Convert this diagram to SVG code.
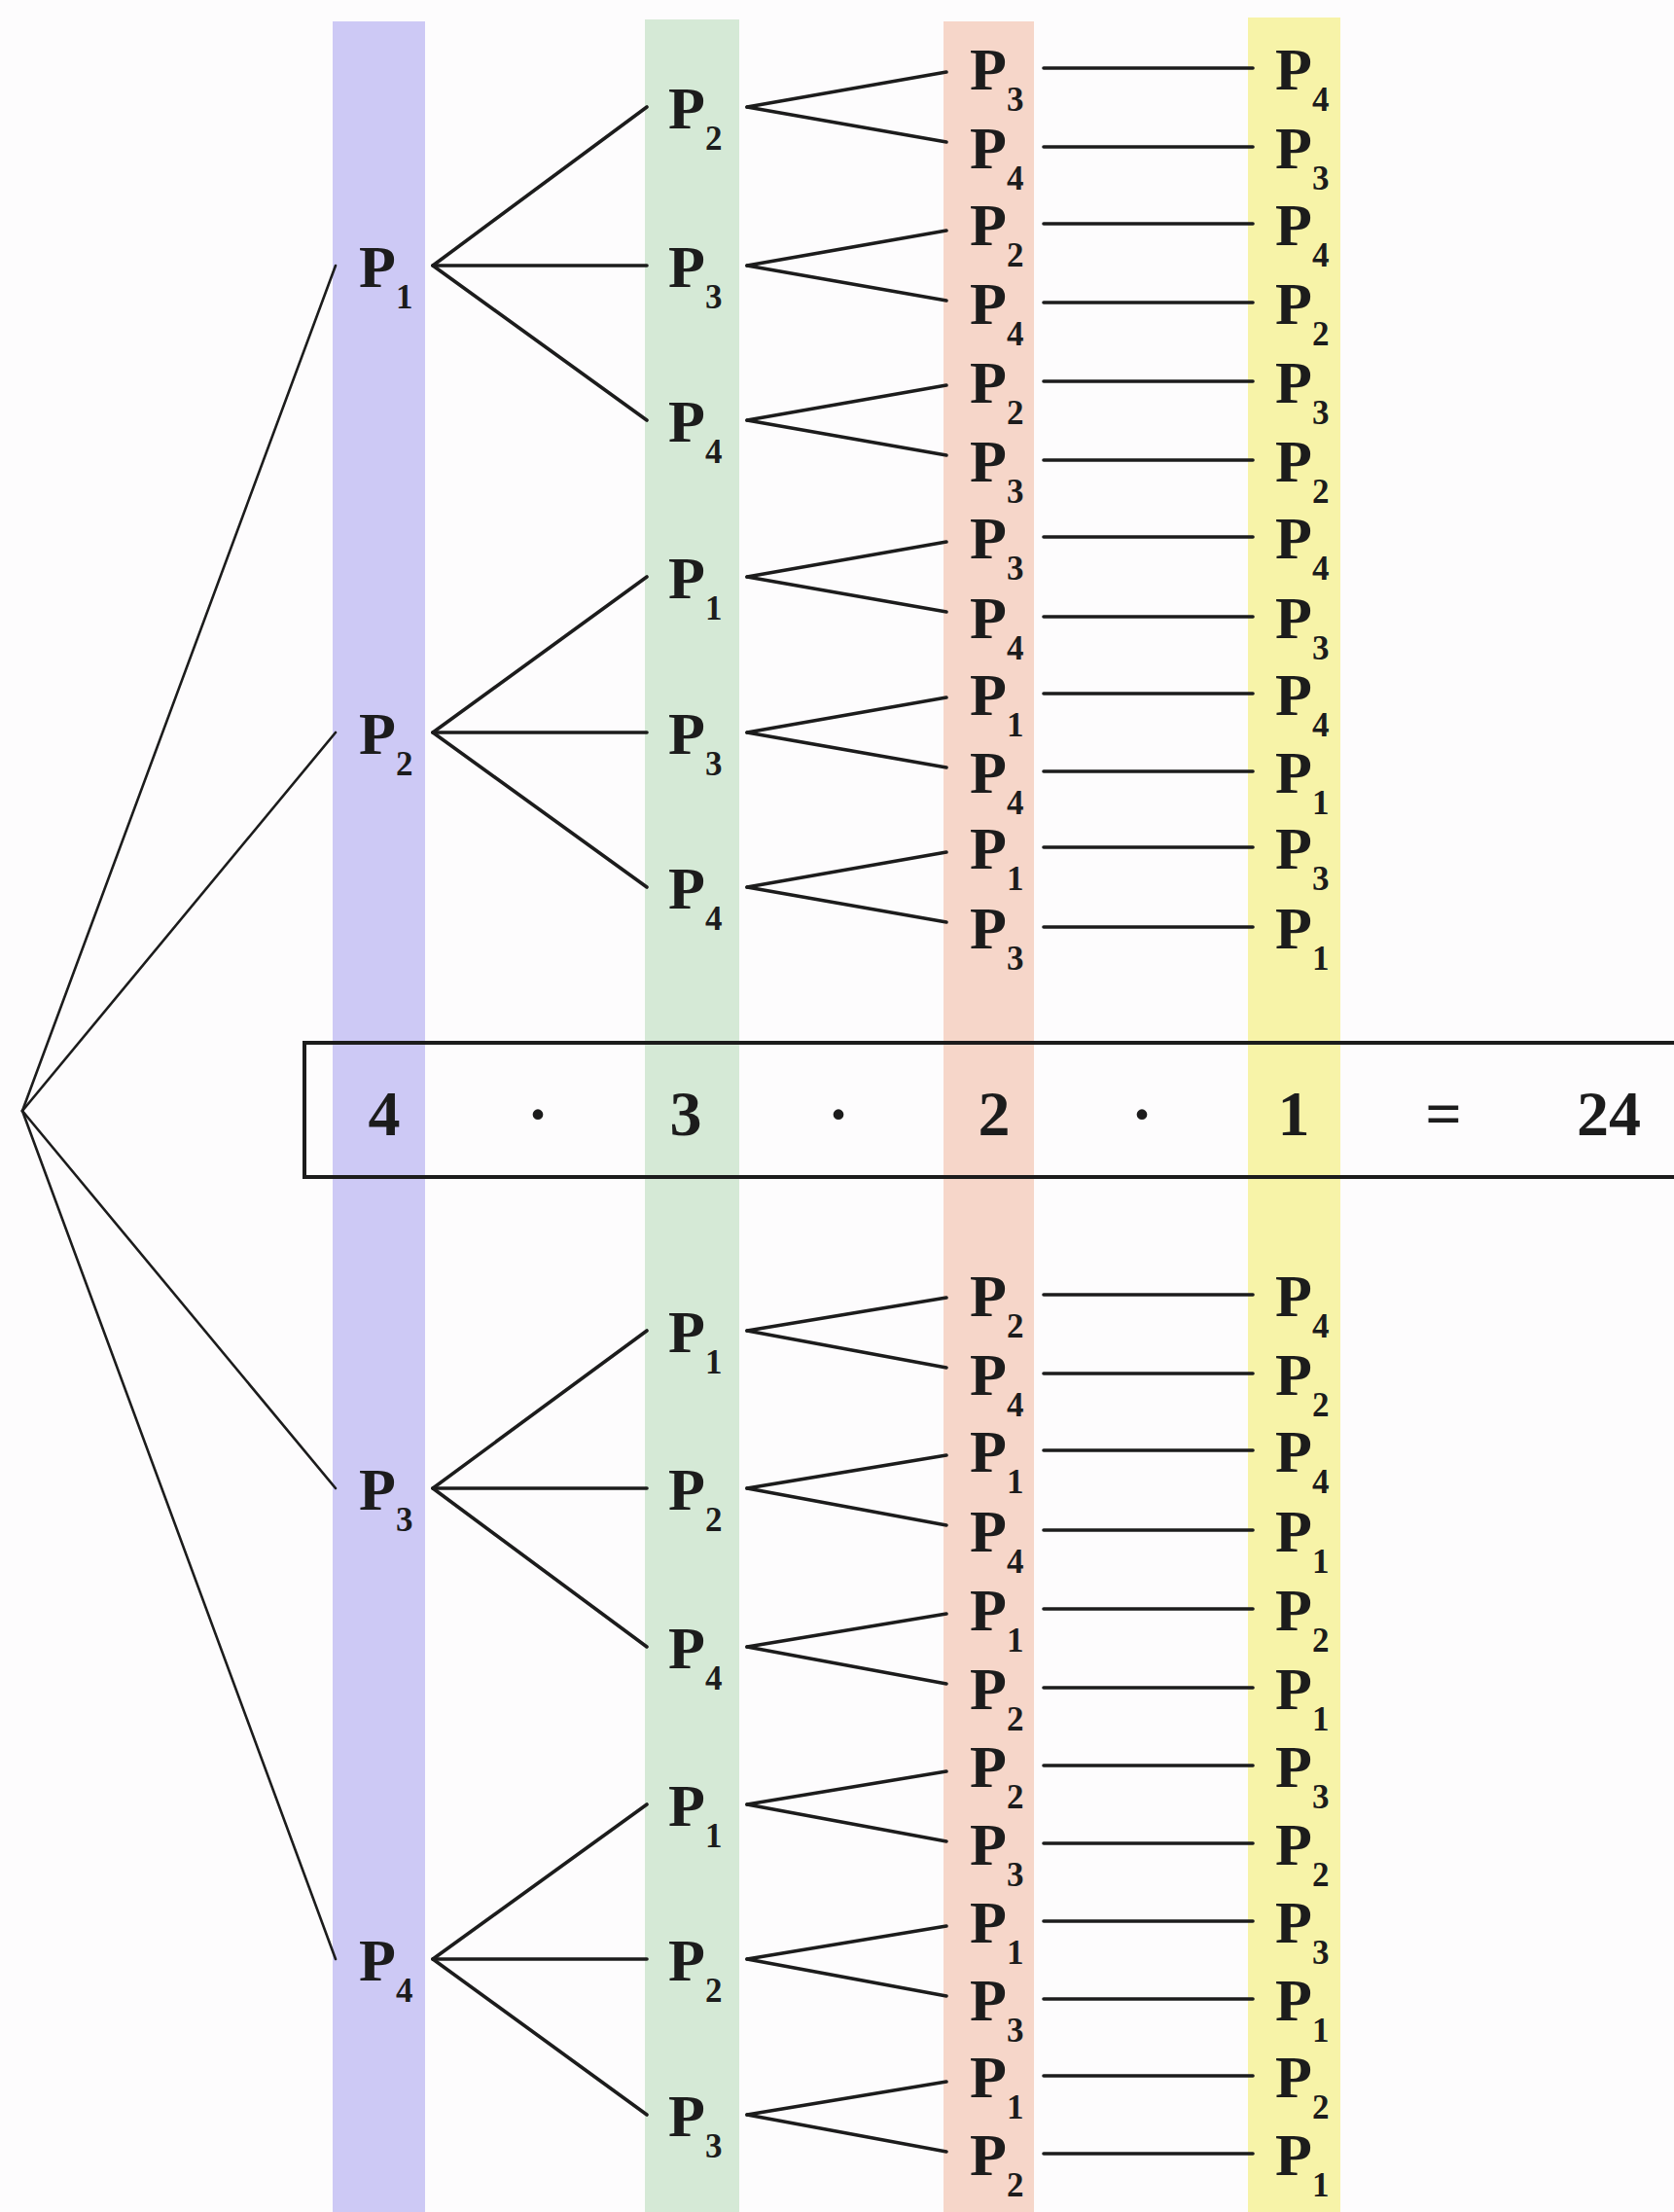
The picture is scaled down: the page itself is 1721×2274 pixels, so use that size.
<svg xmlns="http://www.w3.org/2000/svg" width="1721" height="2274" viewBox="0 0 1721 2274">
<style>
text{font-family:"Liberation Serif","Times New Roman",serif;font-weight:bold;fill:#1c1c1c}
.t{font-size:62px}
.s{font-size:35px}
.b{font-size:66px;text-anchor:middle}
.c line{stroke:#1c1c1c;stroke-width:3.6;stroke-linecap:round}
.c .r{stroke-width:2.6}
</style>
<rect width="1721" height="2274" fill="#fdfcfd"/>
<g id="columns">
<rect x="342" y="22" width="95" height="2252" fill="#cdc9f5"/>
<rect x="663" y="20" width="97" height="2254" fill="#d5e9d6"/>
<rect x="970" y="22" width="93" height="2252" fill="#f6d6c9"/>
<rect x="1283" y="18" width="95" height="2256" fill="#f7f3a8"/>
</g>
<g id="connectors" class="c">
<line class="r" x1="23" y1="1142" x2="345" y2="273"/>
<line class="r" x1="23" y1="1142" x2="345" y2="753"/>
<line class="r" x1="23" y1="1142" x2="345" y2="1530"/>
<line class="r" x1="23" y1="1142" x2="345" y2="2014"/>
<line x1="445" y1="273" x2="665" y2="110"/>
<line x1="445" y1="273" x2="665" y2="273"/>
<line x1="445" y1="273" x2="665" y2="432"/>
<line x1="445" y1="753" x2="665" y2="593"/>
<line x1="445" y1="753" x2="665" y2="753"/>
<line x1="445" y1="753" x2="665" y2="912"/>
<line x1="445" y1="1530" x2="665" y2="1368"/>
<line x1="445" y1="1530" x2="665" y2="1530"/>
<line x1="445" y1="1530" x2="665" y2="1693"/>
<line x1="445" y1="2014" x2="665" y2="1855"/>
<line x1="445" y1="2014" x2="665" y2="2014"/>
<line x1="445" y1="2014" x2="665" y2="2174"/>
<line x1="768" y1="110" x2="973" y2="74"/>
<line x1="768" y1="110" x2="973" y2="146"/>
<line x1="768" y1="273" x2="973" y2="237"/>
<line x1="768" y1="273" x2="973" y2="309"/>
<line x1="768" y1="432" x2="973" y2="396"/>
<line x1="768" y1="432" x2="973" y2="468"/>
<line x1="768" y1="593" x2="973" y2="557"/>
<line x1="768" y1="593" x2="973" y2="629"/>
<line x1="768" y1="753" x2="973" y2="717"/>
<line x1="768" y1="753" x2="973" y2="789"/>
<line x1="768" y1="912" x2="973" y2="876"/>
<line x1="768" y1="912" x2="973" y2="948"/>
<line x1="768" y1="1368" x2="973" y2="1334"/>
<line x1="768" y1="1368" x2="973" y2="1406"/>
<line x1="768" y1="1530" x2="973" y2="1496"/>
<line x1="768" y1="1530" x2="973" y2="1568"/>
<line x1="768" y1="1693" x2="973" y2="1659"/>
<line x1="768" y1="1693" x2="973" y2="1731"/>
<line x1="768" y1="1855" x2="973" y2="1821"/>
<line x1="768" y1="1855" x2="973" y2="1893"/>
<line x1="768" y1="2014" x2="973" y2="1980"/>
<line x1="768" y1="2014" x2="973" y2="2052"/>
<line x1="768" y1="2174" x2="973" y2="2140"/>
<line x1="768" y1="2174" x2="973" y2="2212"/>
<line x1="1073" y1="70" x2="1288" y2="70"/>
<line x1="1073" y1="151" x2="1288" y2="151"/>
<line x1="1073" y1="230" x2="1288" y2="230"/>
<line x1="1073" y1="311" x2="1288" y2="311"/>
<line x1="1073" y1="392" x2="1288" y2="392"/>
<line x1="1073" y1="473" x2="1288" y2="473"/>
<line x1="1073" y1="552" x2="1288" y2="552"/>
<line x1="1073" y1="634" x2="1288" y2="634"/>
<line x1="1073" y1="713" x2="1288" y2="713"/>
<line x1="1073" y1="793" x2="1288" y2="793"/>
<line x1="1073" y1="871" x2="1288" y2="871"/>
<line x1="1073" y1="953" x2="1288" y2="953"/>
<line x1="1073" y1="1331" x2="1288" y2="1331"/>
<line x1="1073" y1="1412" x2="1288" y2="1412"/>
<line x1="1073" y1="1491" x2="1288" y2="1491"/>
<line x1="1073" y1="1573" x2="1288" y2="1573"/>
<line x1="1073" y1="1654" x2="1288" y2="1654"/>
<line x1="1073" y1="1735" x2="1288" y2="1735"/>
<line x1="1073" y1="1815" x2="1288" y2="1815"/>
<line x1="1073" y1="1895" x2="1288" y2="1895"/>
<line x1="1073" y1="1975" x2="1288" y2="1975"/>
<line x1="1073" y1="2055" x2="1288" y2="2055"/>
<line x1="1073" y1="2134" x2="1288" y2="2134"/>
<line x1="1073" y1="2214" x2="1288" y2="2214"/>
</g>
<g id="l1-1"><text class="t" x="369" y="295">P<tspan class="s" dy="22">1</tspan></text></g>
<g id="l1-2"><text class="t" x="369" y="775">P<tspan class="s" dy="22">2</tspan></text></g>
<g id="l1-3"><text class="t" x="369" y="1552">P<tspan class="s" dy="22">3</tspan></text></g>
<g id="l1-4"><text class="t" x="369" y="2036">P<tspan class="s" dy="22">4</tspan></text></g>
<g id="l2-1"><text class="t" x="687" y="132">P<tspan class="s" dy="22">2</tspan></text></g>
<g id="l2-2"><text class="t" x="687" y="295">P<tspan class="s" dy="22">3</tspan></text></g>
<g id="l2-3"><text class="t" x="687" y="454">P<tspan class="s" dy="22">4</tspan></text></g>
<g id="l2-4"><text class="t" x="687" y="615">P<tspan class="s" dy="22">1</tspan></text></g>
<g id="l2-5"><text class="t" x="687" y="775">P<tspan class="s" dy="22">3</tspan></text></g>
<g id="l2-6"><text class="t" x="687" y="934">P<tspan class="s" dy="22">4</tspan></text></g>
<g id="l2-7"><text class="t" x="687" y="1390">P<tspan class="s" dy="22">1</tspan></text></g>
<g id="l2-8"><text class="t" x="687" y="1552">P<tspan class="s" dy="22">2</tspan></text></g>
<g id="l2-9"><text class="t" x="687" y="1715">P<tspan class="s" dy="22">4</tspan></text></g>
<g id="l2-10"><text class="t" x="687" y="1877">P<tspan class="s" dy="22">1</tspan></text></g>
<g id="l2-11"><text class="t" x="687" y="2036">P<tspan class="s" dy="22">2</tspan></text></g>
<g id="l2-12"><text class="t" x="687" y="2196">P<tspan class="s" dy="22">3</tspan></text></g>
<g id="l3-1"><text class="t" x="997" y="92">P<tspan class="s" dy="22">3</tspan></text></g>
<g id="l3-2"><text class="t" x="997" y="173">P<tspan class="s" dy="22">4</tspan></text></g>
<g id="l3-3"><text class="t" x="997" y="252">P<tspan class="s" dy="22">2</tspan></text></g>
<g id="l3-4"><text class="t" x="997" y="333">P<tspan class="s" dy="22">4</tspan></text></g>
<g id="l3-5"><text class="t" x="997" y="414">P<tspan class="s" dy="22">2</tspan></text></g>
<g id="l3-6"><text class="t" x="997" y="495">P<tspan class="s" dy="22">3</tspan></text></g>
<g id="l3-7"><text class="t" x="997" y="574">P<tspan class="s" dy="22">3</tspan></text></g>
<g id="l3-8"><text class="t" x="997" y="656">P<tspan class="s" dy="22">4</tspan></text></g>
<g id="l3-9"><text class="t" x="997" y="735">P<tspan class="s" dy="22">1</tspan></text></g>
<g id="l3-10"><text class="t" x="997" y="815">P<tspan class="s" dy="22">4</tspan></text></g>
<g id="l3-11"><text class="t" x="997" y="893">P<tspan class="s" dy="22">1</tspan></text></g>
<g id="l3-12"><text class="t" x="997" y="975">P<tspan class="s" dy="22">3</tspan></text></g>
<g id="l3-13"><text class="t" x="997" y="1353">P<tspan class="s" dy="22">2</tspan></text></g>
<g id="l3-14"><text class="t" x="997" y="1434">P<tspan class="s" dy="22">4</tspan></text></g>
<g id="l3-15"><text class="t" x="997" y="1513">P<tspan class="s" dy="22">1</tspan></text></g>
<g id="l3-16"><text class="t" x="997" y="1595">P<tspan class="s" dy="22">4</tspan></text></g>
<g id="l3-17"><text class="t" x="997" y="1676">P<tspan class="s" dy="22">1</tspan></text></g>
<g id="l3-18"><text class="t" x="997" y="1757">P<tspan class="s" dy="22">2</tspan></text></g>
<g id="l3-19"><text class="t" x="997" y="1837">P<tspan class="s" dy="22">2</tspan></text></g>
<g id="l3-20"><text class="t" x="997" y="1917">P<tspan class="s" dy="22">3</tspan></text></g>
<g id="l3-21"><text class="t" x="997" y="1997">P<tspan class="s" dy="22">1</tspan></text></g>
<g id="l3-22"><text class="t" x="997" y="2077">P<tspan class="s" dy="22">3</tspan></text></g>
<g id="l3-23"><text class="t" x="997" y="2156">P<tspan class="s" dy="22">1</tspan></text></g>
<g id="l3-24"><text class="t" x="997" y="2236">P<tspan class="s" dy="22">2</tspan></text></g>
<g id="l4-1"><text class="t" x="1311" y="92">P<tspan class="s" dy="22">4</tspan></text></g>
<g id="l4-2"><text class="t" x="1311" y="173">P<tspan class="s" dy="22">3</tspan></text></g>
<g id="l4-3"><text class="t" x="1311" y="252">P<tspan class="s" dy="22">4</tspan></text></g>
<g id="l4-4"><text class="t" x="1311" y="333">P<tspan class="s" dy="22">2</tspan></text></g>
<g id="l4-5"><text class="t" x="1311" y="414">P<tspan class="s" dy="22">3</tspan></text></g>
<g id="l4-6"><text class="t" x="1311" y="495">P<tspan class="s" dy="22">2</tspan></text></g>
<g id="l4-7"><text class="t" x="1311" y="574">P<tspan class="s" dy="22">4</tspan></text></g>
<g id="l4-8"><text class="t" x="1311" y="656">P<tspan class="s" dy="22">3</tspan></text></g>
<g id="l4-9"><text class="t" x="1311" y="735">P<tspan class="s" dy="22">4</tspan></text></g>
<g id="l4-10"><text class="t" x="1311" y="815">P<tspan class="s" dy="22">1</tspan></text></g>
<g id="l4-11"><text class="t" x="1311" y="893">P<tspan class="s" dy="22">3</tspan></text></g>
<g id="l4-12"><text class="t" x="1311" y="975">P<tspan class="s" dy="22">1</tspan></text></g>
<g id="l4-13"><text class="t" x="1311" y="1353">P<tspan class="s" dy="22">4</tspan></text></g>
<g id="l4-14"><text class="t" x="1311" y="1434">P<tspan class="s" dy="22">2</tspan></text></g>
<g id="l4-15"><text class="t" x="1311" y="1513">P<tspan class="s" dy="22">4</tspan></text></g>
<g id="l4-16"><text class="t" x="1311" y="1595">P<tspan class="s" dy="22">1</tspan></text></g>
<g id="l4-17"><text class="t" x="1311" y="1676">P<tspan class="s" dy="22">2</tspan></text></g>
<g id="l4-18"><text class="t" x="1311" y="1757">P<tspan class="s" dy="22">1</tspan></text></g>
<g id="l4-19"><text class="t" x="1311" y="1837">P<tspan class="s" dy="22">3</tspan></text></g>
<g id="l4-20"><text class="t" x="1311" y="1917">P<tspan class="s" dy="22">2</tspan></text></g>
<g id="l4-21"><text class="t" x="1311" y="1997">P<tspan class="s" dy="22">3</tspan></text></g>
<g id="l4-22"><text class="t" x="1311" y="2077">P<tspan class="s" dy="22">1</tspan></text></g>
<g id="l4-23"><text class="t" x="1311" y="2156">P<tspan class="s" dy="22">2</tspan></text></g>
<g id="l4-24"><text class="t" x="1311" y="2236">P<tspan class="s" dy="22">1</tspan></text></g>
<g id="equation">
<rect x="313" y="1072" width="1420" height="138" fill="none" stroke="#1c1c1c" stroke-width="4"/>
<text class="b" x="395" y="1167">4</text>
<text class="b" x="553" y="1167">·</text>
<text class="b" x="705" y="1167">3</text>
<text class="b" x="862" y="1167">·</text>
<text class="b" x="1022" y="1167">2</text>
<text class="b" x="1174" y="1167">·</text>
<text class="b" x="1330" y="1167">1</text>
<text class="b" x="1484" y="1167">=</text>
<text class="b" x="1654" y="1167">24</text>
</g>
</svg>
